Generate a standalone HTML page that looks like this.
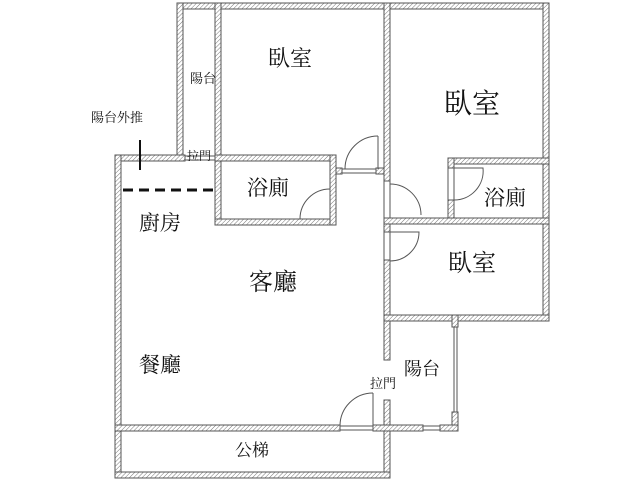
<!DOCTYPE html>
<html><head><meta charset="utf-8"><style>
html,body{margin:0;padding:0;background:#fff}
svg{display:block}
text{font-family:"Liberation Serif","Noto Serif CJK SC","Noto Sans CJK TC",serif;fill:#111}
</style></head><body>
<svg width="640" height="480" viewBox="0 0 640 480" xmlns="http://www.w3.org/2000/svg">
<defs>
<pattern id="h" width="3" height="3" patternUnits="userSpaceOnUse" patternTransform="rotate(45)">
<rect width="3" height="3" fill="#fff"/><line x1="0" y1="0" x2="0" y2="3" stroke="#777" stroke-width="1"/>
</pattern>
</defs>
<g fill="url(#h)" stroke="#555" stroke-width="1">
<!-- top wall -->
<rect x="177" y="3" width="372" height="6"/>
<!-- left balcony strip walls -->
<rect x="177" y="3" width="6" height="158"/>
<rect x="215" y="3" width="6" height="222"/>
<!-- kitchen top wall -->
<rect x="115" y="155" width="70" height="6"/>
<!-- left main wall -->
<rect x="115" y="155" width="6" height="323"/>
<!-- bathroom1 -->
<rect x="215" y="155" width="121" height="6"/>
<rect x="215" y="219" width="121" height="6"/>
<rect x="330" y="155" width="6" height="70"/>
<!-- bedroom1 bottom -->
<rect x="336" y="168" width="6" height="6"/>
<rect x="376" y="168" width="14" height="6"/>
<!-- long vertical wall -->
<rect x="384" y="3" width="6" height="178"/>
<rect x="384" y="218" width="6" height="14"/>
<rect x="384" y="260" width="6" height="100"/>
<rect x="384" y="400" width="6" height="78"/>
<!-- right wall -->
<rect x="543" y="3" width="6" height="318"/>
<!-- bathroom2 -->
<rect x="448" y="158" width="101" height="6"/>
<rect x="448" y="158" width="6" height="10"/>
<rect x="448" y="200" width="6" height="22"/>
<rect x="384" y="218" width="165" height="6"/>
<!-- bedroom3 bottom -->
<rect x="384" y="315" width="165" height="6"/>
<!-- balcony2 right wall -->
<rect x="452" y="315" width="6" height="12"/>
<rect x="452" y="412" width="6" height="19"/>
<!-- bottom living wall -->
<rect x="115" y="425" width="225" height="6"/>
<rect x="373" y="425" width="50" height="6"/>
<rect x="440" y="425" width="18" height="6"/>
<!-- stair bottom -->
<rect x="115" y="472" width="275" height="6"/>
</g>
<!-- thin window lines -->
<g stroke="#555" stroke-width="1" fill="none">
<line x1="454" y1="327" x2="454" y2="412"/><line x1="457" y1="327" x2="457" y2="412"/>
<line x1="423" y1="426" x2="440" y2="426"/><line x1="423" y1="430" x2="440" y2="430"/>
<line x1="340" y1="426" x2="373" y2="426"/><line x1="340" y1="430" x2="373" y2="430"/>
<line x1="342" y1="169" x2="376" y2="169"/><line x1="342" y1="173" x2="376" y2="173"/>
<line x1="185" y1="156" x2="215" y2="156"/><line x1="185" y1="160" x2="215" y2="160"/>
<!-- doors -->
<line x1="378" y1="169" x2="378" y2="136"/><path d="M345 169 A33 33 0 0 1 378 136"/>
<line x1="330" y1="186" x2="330" y2="219"/><path d="M300 219 A30 30 0 0 1 330 189"/>
<line x1="390" y1="181" x2="390" y2="218"/><path d="M390 184 A31 31 0 0 1 421 215"/>
<line x1="390" y1="232" x2="390" y2="260"/><path d="M390 232 L419 232 A29 29 0 0 1 390 261"/>
<line x1="454" y1="168" x2="454" y2="200"/><path d="M454 168 L483 168 A29 29 0 0 1 454 200"/>
<line x1="373" y1="426" x2="373" y2="393"/><path d="M340 426 A33 33 0 0 1 373 393"/>
</g>
<rect x="384" y="181" width="6" height="37" fill="#fff" stroke="#555"/>
<rect x="384" y="232" width="6" height="28" fill="#fff" stroke="#555"/>
<rect x="448" y="168" width="6" height="32" fill="#fff" stroke="#555"/>
<!-- dashed line & marker -->
<line x1="123" y1="190" x2="215" y2="190" stroke="#111" stroke-width="3" stroke-dasharray="10,6"/>
<line x1="140" y1="140" x2="140" y2="170" stroke="#111" stroke-width="2"/>
<!-- labels -->
<text x="290" y="66" font-size="22" text-anchor="middle">臥室</text>
<text x="472" y="113" font-size="28" text-anchor="middle">臥室</text>
<text x="203" y="83" font-size="13" text-anchor="middle">陽台</text>
<text x="117" y="122" font-size="13" text-anchor="middle">陽台外推</text>
<text x="199" y="160" font-size="12" text-anchor="middle">拉門</text>
<text x="268" y="195" font-size="21" text-anchor="middle">浴廁</text>
<text x="505" y="205" font-size="21" text-anchor="middle">浴廁</text>
<text x="160" y="230" font-size="21" text-anchor="middle">廚房</text>
<text x="273" y="290" font-size="24" text-anchor="middle">客廳</text>
<text x="472" y="271" font-size="24" text-anchor="middle">臥室</text>
<text x="160" y="372" font-size="21" text-anchor="middle">餐廳</text>
<text x="422" y="375" font-size="18" text-anchor="middle">陽台</text>
<text x="383" y="388" font-size="13" text-anchor="middle">拉門</text>
<text x="252" y="456" font-size="17" text-anchor="middle">公梯</text>
</svg>
</body></html>
